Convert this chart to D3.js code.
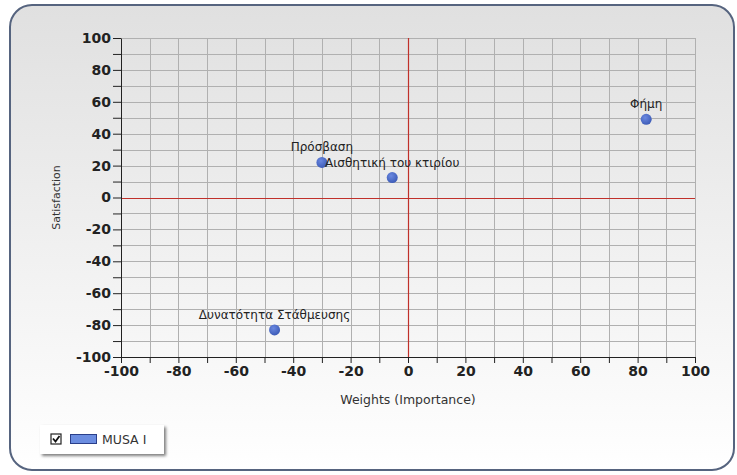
<!DOCTYPE html>
<html><head><meta charset="utf-8">
<script src="https://cdn.jsdelivr.net/npm/d3@7"></script>
<style>body{margin:0;background:#fff;}svg{display:block;}</style>
</head><body>
<svg id="c" width="737" height="475"></svg>
<script>
const names = ["Φήμη","Πρόσβαση","Αισθητική του κτιρίου","Δυνατότητα Στάθμευσης"];
const weights = [83, -30, -5.5, -46.5];
const satisfaction = [49, 22, 12.5, -83];
const xTicks = [-100,-80,-60,-40,-20,0,20,40,60,80,100];
const yTicks = [-100,-80,-60,-40,-20,0,20,40,60,80,100];
const seriesName = "MUSA I";

const FONT = "'DejaVu Sans', Verdana, sans-serif";
const svg = d3.select("#c");
const defs = svg.append("defs");
const g1 = defs.append("linearGradient").attr("id","bg").attr("x1",0).attr("y1",0).attr("x2",0).attr("y2",1);
g1.append("stop").attr("offset","0%").attr("stop-color","#e0e0e0");
g1.append("stop").attr("offset","100%").attr("stop-color","#ffffff");
const g2 = defs.append("radialGradient").attr("id","dot").attr("cx","40%").attr("cy","35%").attr("r","65%");
g2.append("stop").attr("offset","0%").attr("stop-color","#6a88e0");
g2.append("stop").attr("offset","100%").attr("stop-color","#3d5cb8");
const sh = defs.append("filter").attr("id","sh").attr("x","-20%").attr("y","-20%").attr("width","150%").attr("height","160%");
sh.append("feDropShadow").attr("dx",2).attr("dy",2).attr("stdDeviation",1.5).attr("flood-color","#000").attr("flood-opacity",0.5);

svg.append("rect").attr("x",10).attr("y",5).attr("width",724).attr("height",465)
  .attr("rx",22).attr("ry",22).attr("fill","url(#bg)").attr("stroke","#56647f").attr("stroke-width",2);

const x = d3.scaleLinear().domain([-100,100]).range([121,695]);
const y = d3.scaleLinear().domain([-100,100]).range([357,38]);
const px = v => Math.round(x(v)) + 0.5;
const py = v => Math.round(y(v)) + 0.5;

const grid = svg.append("g");
d3.range(-90,101,10).filter(v=>v!==0).forEach(v=>{
  grid.append("line").attr("x1",px(v)).attr("x2",px(v)).attr("y1",y(100)).attr("y2",y(-100)).attr("stroke","#b0b0b0").attr("stroke-width",1);
});
d3.range(-90,101,10).filter(v=>v!==0).forEach(v=>{
  grid.append("line").attr("x1",x(-100)).attr("x2",x(100)).attr("y1",py(v)).attr("y2",py(v)).attr("stroke","#b0b0b0").attr("stroke-width",1);
});

// y axis
const yAxis = d3.axisLeft(y).tickValues(d3.range(-100,101,10)).tickSize(8).tickSizeOuter(0)
  .tickFormat(d=> yTicks.includes(d) ? d : "");
const ya = svg.append("g").attr("transform",`translate(${x(-100)},0)`).call(yAxis);
ya.select(".domain").attr("stroke","#222");
ya.selectAll(".tick line").attr("stroke","#222");
ya.selectAll(".tick text").attr("font-family",FONT).attr("font-size",14).attr("font-weight","bold").attr("fill","#222").attr("x",-10);

// x axis
const xAxis = d3.axisBottom(x).tickValues(d3.range(-100,101,10)).tickSize(6).tickSizeOuter(0)
  .tickFormat(d=> xTicks.includes(d) ? d : "");
const xa = svg.append("g").attr("transform",`translate(0,${y(-100)})`).call(xAxis);
xa.select(".domain").attr("stroke","#222");
xa.selectAll(".tick line").attr("stroke","#222");
xa.selectAll(".tick text").attr("font-family",FONT).attr("font-size",14).attr("font-weight","bold").attr("fill","#222").attr("y",9);

// zero lines
const zl = svg.append("g");
zl.append("line").attr("x1",px(0)).attr("x2",px(0)).attr("y1",y(100)).attr("y2",y(-100)).attr("stroke","#c0302a").attr("stroke-width",1.2);
zl.append("line").attr("x1",x(-100)+1).attr("x2",x(100)).attr("y1",py(0)).attr("y2",py(0)).attr("stroke","#c0302a").attr("stroke-width",1.2);

// axis titles
svg.append("text").attr("x",x(0)).attr("y",404).attr("text-anchor","middle")
  .attr("font-family",FONT).attr("font-size",12.5).attr("fill","#333").text("Weights (Importance)");
svg.append("text").attr("transform",`translate(60,${y(0)}) rotate(-90)`).attr("text-anchor","middle")
  .attr("font-family",FONT).attr("font-size",11).attr("fill","#333").text("Satisfaction");

// points
const data = names.map((n,i)=>({n, w:weights[i], s:satisfaction[i]}));
const pts = svg.append("g");
pts.selectAll("circle").data(data).join("circle")
  .attr("cx",d=>x(d.w)).attr("cy",d=>y(d.s)).attr("r",5.5).attr("fill","url(#dot)");
pts.selectAll("text").data(data).join("text")
  .attr("x",d=>x(d.w)).attr("y",d=>y(d.s)-11).attr("text-anchor","middle")
  .attr("font-family",FONT).attr("font-size",12).attr("fill","#222").text(d=>d.n);

// legend
const lg = svg.append("g");
lg.append("rect").attr("x",40).attr("y",425).attr("width",124).attr("height",29).attr("fill","#fff").attr("filter","url(#sh)");
lg.append("rect").attr("x",51).attr("y",434).attr("width",10).attr("height",10).attr("fill","#fff").attr("stroke","#222").attr("stroke-width",1.2);
lg.append("path").attr("d","M53,438.5 L55.5,441.5 L59.5,436").attr("fill","none").attr("stroke","#111").attr("stroke-width",1.8);
lg.append("rect").attr("x",70.5).attr("y",434.5).attr("width",26).attr("height",9).attr("fill","#6b8de0").attr("stroke","#2a3f8a").attr("stroke-width",1);
lg.append("text").attr("x",102).attr("y",444).attr("font-family",FONT).attr("font-size",12.5).attr("fill","#333").text(seriesName);
</script>
</body></html>
